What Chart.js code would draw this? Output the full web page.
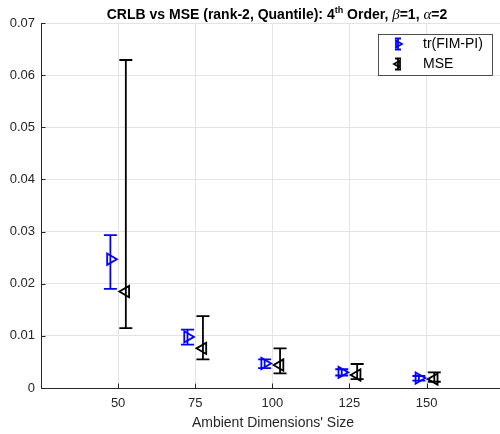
<!DOCTYPE html>
<html><head><meta charset="utf-8">
<script src="https://cdn.jsdelivr.net/npm/chart.js@4.4.0/dist/chart.umd.min.js"></script>
<style>html,body{margin:0;padding:0;background:#fff}#wrap{width:500px;height:434px}</style>
</head><body><div id="wrap"><canvas id="c" width="500" height="434"></canvas></div>
<script>
// ---- data ----
const dims = [50, 75, 100, 125, 150];
const crlbMean = [0.0247, 0.0098, 0.0047, 0.0030, 0.0019];
const crlbLow  = [0.0190, 0.0083, 0.0038, 0.0024, 0.0014];
const crlbHigh = [0.0293, 0.0112, 0.0055, 0.0036, 0.0023];
const mseMean  = [0.0185, 0.0076, 0.0044, 0.0025, 0.0017];
const mseLow   = [0.0115, 0.0055, 0.0028, 0.0017, 0.0012];
const mseHigh  = [0.0629, 0.0138, 0.0076, 0.0046, 0.0030];
const yTicks = [0, 0.01, 0.02, 0.03, 0.04, 0.05, 0.06, 0.07];
const xTicks = [50, 75, 100, 125, 150];
const seriesLabels = ['tr(FIM-PI)', 'MSE'];
const xLabel = "Ambient Dimensions' Size";

const dodge = 2.5;
const FONT = "'Liberation Sans', Arial, Helvetica, sans-serif";
const BLUE = '#0000ff', BLACK = '#000000';

function mk(means, lows, highs, off) {
  return dims.map((d, i) => ({x: d + off, y: means[i], lo: lows[i], hi: highs[i]}));
}

const errorBars = {
  id: 'errorBars',
  afterDatasetsDraw(chart) {
    const ctx = chart.ctx, xs = chart.scales.x, ys = chart.scales.y;
    chart.data.datasets.forEach((ds, di) => {
      ctx.save();
      ctx.strokeStyle = ds.borderColor;
      ctx.lineWidth = 1.8;
      const cap = 6.5;
      ds.data.forEach(p => {
        const px = xs.getPixelForValue(p.x);
        const y1 = ys.getPixelForValue(p.lo), y2 = ys.getPixelForValue(p.hi);
        ctx.beginPath();
        ctx.moveTo(px, y1); ctx.lineTo(px, y2);
        ctx.moveTo(px - cap, y1); ctx.lineTo(px + cap, y1);
        ctx.moveTo(px - cap, y2); ctx.lineTo(px + cap, y2);
        ctx.stroke();
      });
      ctx.restore();
    });
  }
};

function drawTri(ctx, x, y, r, dir, color) {
  ctx.save();
  ctx.strokeStyle = color; ctx.lineWidth = 1.8;
  ctx.translate(x, y);
  ctx.rotate(dir * Math.PI / 2);
  ctx.beginPath();
  ctx.moveTo(0, -r); ctx.lineTo(r * 0.87, r * 0.5); ctx.lineTo(-r * 0.87, r * 0.5); ctx.closePath();
  ctx.stroke();
  ctx.restore();
}

const decor = {
  id: 'decor',
  afterDraw(chart) {
    const ctx = chart.ctx, a = chart.chartArea, xs = chart.scales.x, ys = chart.scales.y;
    ctx.save();
    // inner ticks
    ctx.strokeStyle = '#262626'; ctx.lineWidth = 1;
    xTicks.forEach(v => {
      const px = Math.round(xs.getPixelForValue(v)) + 0.5;
      ctx.beginPath(); ctx.moveTo(px, a.bottom); ctx.lineTo(px, a.bottom - 4.5); ctx.stroke();
    });
    yTicks.forEach(v => {
      const py = Math.round(ys.getPixelForValue(v)) + 0.5;
      ctx.beginPath(); ctx.moveTo(a.left, py); ctx.lineTo(a.left + 4.5, py); ctx.stroke();
    });
    // title
    const segs = [
      {t: 'CRLB vs MSE (rank-2, Quantile): 4', f: 'bold 14px ' + FONT, dy: 0},
      {t: 'th', f: 'bold 9px ' + FONT, dy: -6},
      {t: ' Order, ', f: 'bold 14px ' + FONT, dy: 0},
      {t: 'β', f: "italic 15px 'Liberation Serif', serif", dy: 0},
      {t: '=1, ', f: 'bold 14px ' + FONT, dy: 0},
      {t: 'α', f: "italic 15px 'Liberation Serif', serif", dy: 0},
      {t: '=2', f: 'bold 14px ' + FONT, dy: 0}
    ];
    let total = 0;
    segs.forEach(s => { ctx.font = s.f; s.w = ctx.measureText(s.t).width; total += s.w; });
    let x = 277 - total / 2;
    const base = 19;
    ctx.fillStyle = '#000'; ctx.textBaseline = 'alphabetic'; ctx.textAlign = 'left';
    segs.forEach(s => { ctx.font = s.f; ctx.fillText(s.t, x, base + s.dy); x += s.w; });
    // x label
    ctx.font = '14px ' + FONT; ctx.fillStyle = '#262626'; ctx.textAlign = 'center'; ctx.textBaseline = 'middle';
    ctx.fillText(xLabel, 273, 423);
    // legend
    const L = 378, T = 34, R = 492, B = 75;
    ctx.fillStyle = '#fff'; ctx.fillRect(L, T, R - L, B - T);
    ctx.strokeStyle = '#262626'; ctx.lineWidth = 0.8; ctx.strokeRect(L + 0.5, T + 0.5, R - L, B - T);
    const rows = [{y: 44, c: BLUE, dir: 1}, {y: 64, c: BLACK, dir: -1}];
    rows.forEach((r, i) => {
      const sx = 398;
      ctx.strokeStyle = r.c; ctx.lineWidth = 1.8;
      ctx.beginPath();
      ctx.moveTo(sx, r.y - 5.5); ctx.lineTo(sx, r.y + 5.5);
      ctx.moveTo(sx - 3, r.y - 5.5); ctx.lineTo(sx + 3, r.y - 5.5);
      ctx.moveTo(sx - 3, r.y + 5.5); ctx.lineTo(sx + 3, r.y + 5.5);
      ctx.stroke();
      drawTri(ctx, sx, r.y, 4, r.dir, r.c);
      ctx.fillStyle = '#000'; ctx.font = '14px ' + FONT; ctx.textAlign = 'left'; ctx.textBaseline = 'middle';
      ctx.fillText(seriesLabels[i], 423, r.y);
    });
    ctx.restore();
  }
};

new Chart(document.getElementById('c'), {
  type: 'scatter',
  data: {
    datasets: [
      {label: seriesLabels[0], data: mk(crlbMean, crlbLow, crlbHigh, -dodge), borderColor: BLUE, backgroundColor: 'rgba(0,0,0,0)',
       pointStyle: 'triangle', rotation: 90, pointRadius: 6.5, pointBorderWidth: 1.8, pointHoverRadius: 6.5},
      {label: seriesLabels[1], data: mk(mseMean, mseLow, mseHigh, dodge), borderColor: BLACK, backgroundColor: 'rgba(0,0,0,0)',
       pointStyle: 'triangle', rotation: -90, pointRadius: 6.5, pointBorderWidth: 1.8, pointHoverRadius: 6.5}
    ]
  },
  options: {
    responsive: false, animation: false, devicePixelRatio: 1,
    layout: {autoPadding: false, padding: {top: 23, right: 0, left: 0, bottom: 0}},
    plugins: {legend: {display: false}, title: {display: false}, tooltip: {enabled: false}},
    scales: {
      x: {
        type: 'linear', min: 25, max: 173.8,
        afterBuildTicks: s => { s.ticks = xTicks.map(v => ({value: v})); },
        afterFit: s => { s.height = 46; s.paddingLeft = 0; s.paddingRight = 0; },
        grid: {color: '#e3e3e3', drawTicks: false},
        border: {color: '#262626', width: 1},
        ticks: {padding: 8, color: '#262626', font: {family: FONT, size: 13}, maxRotation: 0}
      },
      y: {
        min: 0, max: 0.07,
        afterBuildTicks: s => { s.ticks = yTicks.map(v => ({value: v})); },
        afterFit: s => { s.width = 41; s.paddingTop = 0; s.paddingBottom = 0; },
        grid: {color: '#e3e3e3', drawTicks: false},
        border: {color: '#262626', width: 1},
        ticks: {padding: 6, color: '#262626', font: {family: FONT, size: 13},
                callback: v => v === 0 ? '0' : v.toFixed(2)}
      }
    }
  },
  plugins: [errorBars, decor]
});
</script></body></html>
